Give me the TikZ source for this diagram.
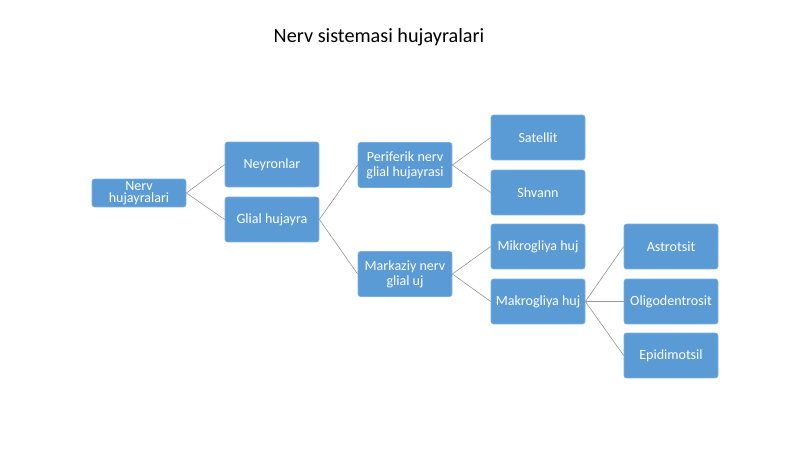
\documentclass[tikz,border=0pt]{standalone}
\usepackage{fontspec}
\setmainfont{Carlito}
\definecolor{boxblue}{RGB}{91,155,213}
\definecolor{boxedge}{RGB}{120,175,225}
\definecolor{linkgray}{RGB}{150,150,150}

\begin{document}
\begin{tikzpicture}[x=0.02cm,y=-0.02cm,
    cell/.style={draw=boxedge,fill=boxblue,rounded corners=1.5pt,text=white,
      minimum width=1.88cm,minimum height=0.9cm,inner sep=1pt,align=center,
      font=\fontsize{8}{8.5}\selectfont},
    link/.style={draw=linkgray,line width=0.35pt}]
  \useasboundingbox (0,0) rectangle (800,449);
  \node[font=\fontsize{11.5}{13}\selectfont] (title) at (379,37) {Nerv sistemasi hujayralari};
  % first level
  \node[cell,minimum height=0.56cm,inner sep=0pt,font=\fontsize{8}{6.5}\selectfont] (nerv) at (139,193) {Nerv\\hujayralari};
  \node[cell] (neyron) at (272,164.5) {Neyronlar};
  \node[cell] (glial) at (272,219.5) {Glial hujayra};
  % glial cells
  \node[cell] (perif) at (405,165) {Periferik nerv\\glial hujayrasi};
  \node[cell] (markaz) at (405,274) {Markaziy nerv\\glial uj};
  \node[cell] (satel) at (538,137.5) {Satellit};
  \node[cell] (shvann) at (538,192.5) {Shvann};
  \node[cell] (mikro) at (538,246.5) {Mikrogliya huj};
  \node[cell] (makro) at (538,301.5) {Makrogliya huj};
  \node[cell] (astro) at (671,246.5) {Astrotsit};
  \node[cell] (oligo) at (671,301.5) {Oligodentrosit};
  \node[cell] (epidi) at (671,355.5) {Epidimotsil};
  % links
  \draw[link] (nerv.east) -- (neyron.west);
  \draw[link] (nerv.east) -- (glial.west);
  \draw[link] (glial.east) -- (perif.west);
  \draw[link] (glial.east) -- (markaz.west);
  \draw[link] (perif.east) -- (satel.west);
  \draw[link] (perif.east) -- (shvann.west);
  \draw[link] (markaz.east) -- (mikro.west);
  \draw[link] (markaz.east) -- (makro.west);
  \draw[link] (makro.east) -- (astro.west);
  \draw[link] (makro.east) -- (oligo.west);
  \draw[link] (makro.east) -- (epidi.west);
\end{tikzpicture}
\end{document}
